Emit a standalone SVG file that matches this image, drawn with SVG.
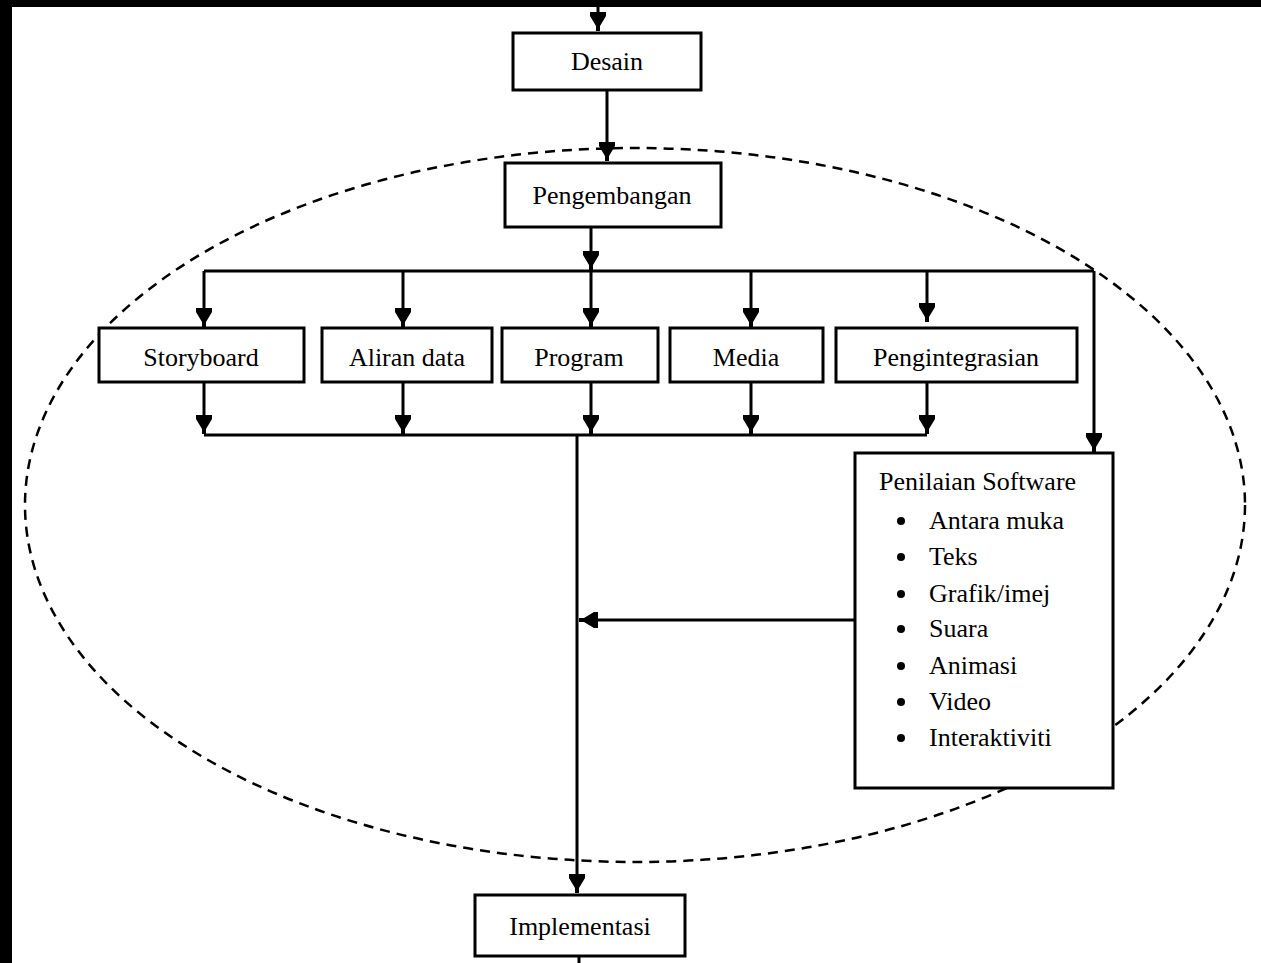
<svg xmlns="http://www.w3.org/2000/svg" width="1261" height="963" viewBox="0 0 1261 963">
<style>
.box{fill:#fff;stroke:#000;stroke-width:3}
.ln{fill:none;stroke:#000;stroke-width:3}
.arr{fill:none;stroke:#000;stroke-width:3;marker-end:url(#ah)}
.bound{fill:none;stroke:#000;stroke-width:2.5;stroke-dasharray:10 7}
text{font-family:"Liberation Serif","Times New Roman",serif;font-size:26px;fill:#000}
.c{text-anchor:middle}
</style>
<defs>
<marker id="ah" markerUnits="userSpaceOnUse" markerWidth="20" markerHeight="20" viewBox="-19 -10 20 20" refX="0" refY="0" orient="auto">
<path d="M-19,-8 L-15,-8 L-5,-2 L0,-2 L0,2 L-5,2 L-15,8 L-19,8 Z" fill="#000"/>
</marker>
</defs>
<rect x="0" y="0" width="1261" height="963" fill="#fff"/>
<rect x="0" y="0" width="1261" height="7" fill="#000"/>
<rect x="0" y="0" width="12" height="963" fill="#000"/>
<g id="boundary">
<ellipse class="bound" cx="635" cy="505" rx="610" ry="357"/>
</g>
<g id="connectors">
<line class="arr" x1="598" y1="7" x2="598" y2="31"/>
<line class="arr" x1="607" y1="90" x2="607" y2="161"/>
<line class="arr" x1="591" y1="227" x2="591" y2="270"/>
<polyline class="ln" points="204,271 1094,271"/>
<line class="arr" x1="204" y1="271" x2="204" y2="327"/>
<line class="arr" x1="403" y1="271" x2="403" y2="327"/>
<line class="arr" x1="591" y1="271" x2="591" y2="327"/>
<line class="arr" x1="751" y1="271" x2="751" y2="327"/>
<line class="arr" x1="927" y1="271" x2="927" y2="322"/>
<line class="arr" x1="1094" y1="271" x2="1094" y2="452"/>
<line class="arr" x1="204" y1="382" x2="204" y2="434"/>
<line class="arr" x1="403" y1="382" x2="403" y2="434"/>
<line class="arr" x1="591" y1="382" x2="591" y2="434"/>
<line class="arr" x1="751" y1="382" x2="751" y2="434"/>
<line class="arr" x1="927" y1="382" x2="927" y2="434"/>
<polyline class="ln" points="204,435 927,435"/>
<line class="arr" x1="577" y1="435" x2="577" y2="893"/>
<line class="arr" x1="854" y1="620" x2="579" y2="620"/>
<line class="ln" x1="579" y1="956" x2="579" y2="963"/>
</g>
<g id="desain">
<rect class="box" x="513" y="33" width="188" height="57"/>
<text class="c" x="607" y="70">Desain</text>
</g>
<g id="pengembangan">
<rect class="box" x="505" y="163" width="216" height="64"/>
<text class="c" x="612" y="204">Pengembangan</text>
</g>
<g id="storyboard">
<rect class="box" x="99" y="328" width="205" height="54"/>
<text class="c" x="201" y="366">Storyboard</text>
</g>
<g id="aliran-data">
<rect class="box" x="322" y="328" width="170" height="54"/>
<text class="c" x="407" y="366">Aliran data</text>
</g>
<g id="program">
<rect class="box" x="502" y="328" width="156" height="54"/>
<text class="c" x="579" y="366">Program</text>
</g>
<g id="media">
<rect class="box" x="670" y="328" width="153" height="54"/>
<text class="c" x="746" y="366">Media</text>
</g>
<g id="pengintegrasian">
<rect class="box" x="836" y="328" width="241" height="54"/>
<text class="c" x="956" y="366">Pengintegrasian</text>
</g>
<g id="penilaian-software">
<rect class="box" x="855" y="453" width="258" height="335"/>
<text x="879" y="490">Penilaian Software</text>
<circle cx="901" cy="521" r="4"/><text x="929" y="529">Antara muka</text>
<circle cx="901" cy="557" r="4"/><text x="929" y="565">Teks</text>
<circle cx="901" cy="594" r="4"/><text x="929" y="602">Grafik/imej</text>
<circle cx="901" cy="629" r="4"/><text x="929" y="637">Suara</text>
<circle cx="901" cy="666" r="4"/><text x="929" y="674">Animasi</text>
<circle cx="901" cy="702" r="4"/><text x="929" y="710">Video</text>
<circle cx="901" cy="738" r="4"/><text x="929" y="746">Interaktiviti</text>
</g>
<g id="implementasi">
<rect class="box" x="475" y="895" width="210" height="61"/>
<text class="c" x="580" y="935">Implementasi</text>
</g>
</svg>
